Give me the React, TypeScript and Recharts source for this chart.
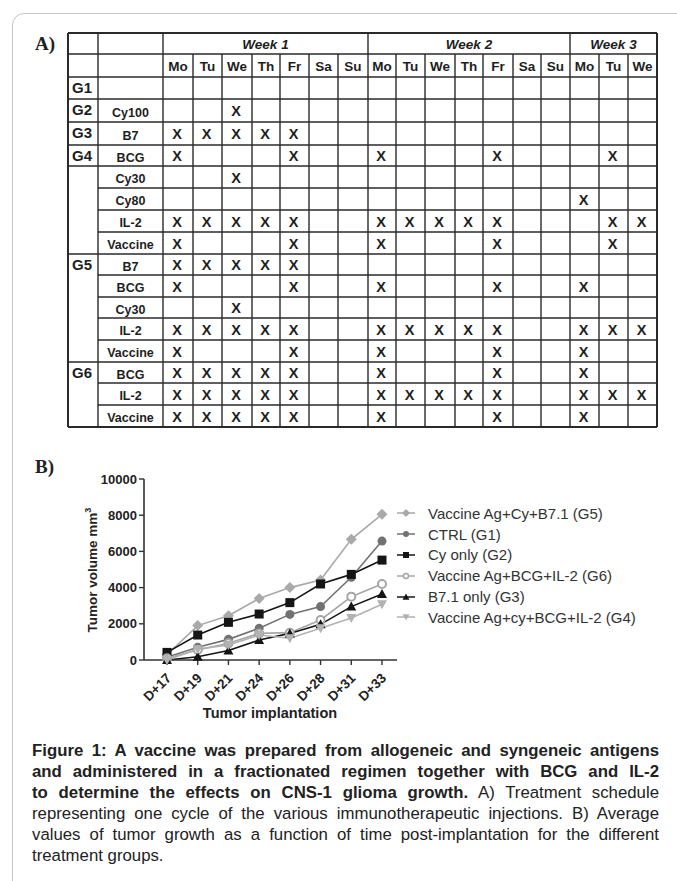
import React from 'react';
import { LineChart, Line, XAxis, YAxis, Legend } from 'recharts';

// ---- part B data ----
const days = ['D+17', 'D+19', 'D+21', 'D+24', 'D+26', 'D+28', 'D+31', 'D+33'];
const g5Values = [300, 1900, 2450, 3400, 4000, 4420, 6670, 8050];
const g1Values = [150, 700, 1140, 1750, 2520, 2950, 4570, 6570];
const g2Values = [420, 1380, 2080, 2540, 3170, 4200, 4730, 5520];
const g6Values = [100, 550, 920, 1470, 1510, 2210, 3500, 4200];
const g3Values = [0, 180, 520, 1100, 1470, 1970, 2950, 3650];
const g4Values = [0, 600, 830, 1380, 1200, 1750, 2320, 3080];
const yTicks = [0, 2000, 4000, 6000, 8000, 10000];

// ---- part A data (treatment schedule) ----
const weeks = ['Week 1', 'Week 2', 'Week 3'];
const weekDays = [
  ['Mo', 'Tu', 'We', 'Th', 'Fr', 'Sa', 'Su'],
  ['Mo', 'Tu', 'We', 'Th', 'Fr', 'Sa', 'Su'],
  ['Mo', 'Tu', 'We'],
];
const treatments = ['', 'Cy100', 'B7', 'BCG', 'Cy30', 'Cy80', 'IL-2', 'Vaccine', 'B7', 'BCG', 'Cy30', 'IL-2', 'Vaccine', 'BCG', 'IL-2', 'Vaccine'];
const schedule = [
  '.......|.......|...',
  '..X....|.......|...',
  'XXXXX..|.......|...',
  'X...X..|X...X..|.X.',
  '..X....|.......|...',
  '.......|.......|X..',
  'XXXXX..|XXXXX..|.XX',
  'X...X..|X...X..|.X.',
  'XXXXX..|.......|...',
  'X...X..|X...X..|X..',
  '..X....|.......|...',
  'XXXXX..|XXXXX..|XXX',
  'X...X..|X...X..|X..',
  'XXXXX..|X...X..|X..',
  'XXXXX..|XXXXX..|XXX',
  'XXXXX..|X...X..|X..',
];
const groupLabels = ['G1', 'G2', 'G3', 'G4', '', 'G5', 'G6'];
const groupSpans = [1, 1, 1, 1, 4, 5, 3];

const FONT = '"Liberation Sans", Arial, Helvetica, sans-serif';

const chartData = days.map((d, i) => ({
  day: d,
  g5: g5Values[i],
  g1: g1Values[i],
  g2: g2Values[i],
  g6: g6Values[i],
  g3: g3Values[i],
  g4: g4Values[i],
}));

const series = [
  { key: 'g5', name: 'Vaccine Ag+Cy+B7.1 (G5)', color: '#a9a9a9', shape: 'diamond' },
  { key: 'g1', name: 'CTRL (G1)', color: '#727272', shape: 'circle' },
  { key: 'g2', name: 'Cy only (G2)', color: '#151515', shape: 'square' },
  { key: 'g6', name: 'Vaccine Ag+BCG+IL-2 (G6)', color: '#a6a6a6', shape: 'ring' },
  { key: 'g3', name: 'B7.1 only (G3)', color: '#151515', shape: 'triangle' },
  { key: 'g4', name: 'Vaccine Ag+cy+BCG+IL-2 (G4)', color: '#b2b2b2', shape: 'down' },
];

function marker(shape: string, x: number, y: number, color: string, s = 1) {
  const r = 5 * s;
  switch (shape) {
    case 'diamond':
      return <polygon points={`${x},${y - r - 0.5} ${x + r + 0.5},${y} ${x},${y + r + 0.5} ${x - r - 0.5},${y}`} fill={color} />;
    case 'circle':
      return <circle cx={x} cy={y} r={r - 0.5} fill={color} />;
    case 'square':
      return <rect x={x - r + 0.5} y={y - r + 0.5} width={2 * r - 1} height={2 * r - 1} fill={color} />;
    case 'ring':
      return <circle cx={x} cy={y} r={r - 1} fill="#fff" stroke={color} strokeWidth={2 * s} />;
    case 'triangle':
      return <polygon points={`${x},${y - r} ${x + r},${y + r * 0.8} ${x - r},${y + r * 0.8}`} fill={color} />;
    default:
      return <polygon points={`${x},${y + r} ${x + r},${y - r * 0.8} ${x - r},${y - r * 0.8}`} fill={color} />;
  }
}

const XTick = (props: any) => {
  const { x, y, payload } = props;
  const tx = x + 5;
  const ty = y + 12;
  return (
    <text x={tx} y={ty} transform={`rotate(-45 ${tx} ${ty})`} textAnchor="end" fontFamily={FONT} fontWeight="bold" fontSize={13.5} fill="#222">
      {payload.value}
    </text>
  );
};

const renderLegend = () => (
  <div style={{ fontFamily: FONT, fontSize: 15, color: '#333' }}>
    {series.map((s) => (
      <div key={s.key} style={{ display: 'flex', alignItems: 'center', height: 20.8 }}>
        <svg width={22} height={14} style={{ flex: 'none' }}>
          <line x1={2} y1={7} x2={20} y2={7} stroke={s.color} strokeWidth={1.5} />
          {marker(s.shape, 11, 7, s.color, 0.7)}
        </svg>
        <span style={{ marginLeft: 11, whiteSpace: 'nowrap' }}>{s.name}</span>
      </div>
    ))}
  </div>
);

// table layout
const colEdges = [68, 98, 163, 193, 222, 252, 280, 309, 338, 368, 396, 425, 455, 483, 513, 541, 570, 599, 628, 657];
const rowEdges = [33, 54, 77, 99, 122, 145, 166, 188, 210, 232, 254, 275, 297, 318, 340, 362, 383, 405, 427];

function ScheduleTable() {
  const lines: React.ReactNode[] = [];
  const texts: React.ReactNode[] = [];
  const L = colEdges[0];
  const R = colEdges[colEdges.length - 1];
  const T = rowEdges[0];
  const B = rowEdges[rowEdges.length - 1];

  // group start rows (data-row index)
  const groupStarts: number[] = [];
  let acc = 0;
  groupSpans.forEach((s) => {
    groupStarts.push(acc);
    acc += s;
  });
  const fullRows = new Set<number>([0, 1, 2, rowEdges.length - 1, ...groupStarts.map((g) => g + 2)]);

  rowEdges.forEach((y, i) => {
    const full = fullRows.has(i);
    const thick = i === 0 || i === rowEdges.length - 1;
    lines.push(<line key={`h${i}`} x1={full ? L : colEdges[1]} x2={R} y1={y} y2={y} stroke="#2a2a2a" strokeWidth={thick ? 2 : 1.4} />);
  });

  const weekEdgeIdx = new Set<number>([0, 1, 2, 9, 16, 19]);
  colEdges.forEach((x, i) => {
    const full = weekEdgeIdx.has(i);
    const thick = i === 0 || i === colEdges.length - 1;
    lines.push(<line key={`v${i}`} x1={x} x2={x} y1={full ? T : rowEdges[1]} y2={B} stroke="#2a2a2a" strokeWidth={thick ? 2 : 1.4} />);
  });

  // header
  let dayCol = 2;
  weeks.forEach((w, wi) => {
    const n = weekDays[wi].length;
    const x0 = colEdges[dayCol];
    const x1 = colEdges[dayCol + n];
    texts.push(
      <text key={`w${wi}`} x={(x0 + x1) / 2} y={rowEdges[0] + 16} textAnchor="middle" fontWeight="bold" fontStyle="italic" fontSize={13.5}>
        {w}
      </text>
    );
    weekDays[wi].forEach((d, di) => {
      const c = dayCol + di;
      texts.push(
        <text key={`d${wi}-${di}`} x={(colEdges[c] + colEdges[c + 1]) / 2} y={rowEdges[1] + 17} textAnchor="middle" fontWeight="bold" fontSize={13.5}>
          {d}
        </text>
      );
    });
    dayCol += n;
  });

  // group labels
  groupLabels.forEach((g, gi) => {
    if (!g) return;
    const top = rowEdges[groupStarts[gi] + 2];
    texts.push(
      <text key={`g${gi}`} x={L + 4} y={top + 16} fontWeight="bold" fontSize={15}>
        {g}
      </text>
    );
  });

  // treatments and X marks
  treatments.forEach((t, ri) => {
    const top = rowEdges[ri + 2];
    const bot = rowEdges[ri + 3];
    const yb = (top + bot) / 2 + 5;
    if (t) {
      texts.push(
        <text key={`t${ri}`} x={(colEdges[1] + colEdges[2]) / 2} y={yb + 1} textAnchor="middle" fontWeight="bold" fontSize={12.5}>
          {t}
        </text>
      );
    }
    const marks = schedule[ri].replace(/\|/g, '');
    marks.split('').forEach((m, ci) => {
      if (m !== 'X') return;
      const c = ci + 2;
      texts.push(
        <text key={`x${ri}-${ci}`} x={(colEdges[c] + colEdges[c + 1]) / 2 - 1} y={yb + 0.5} textAnchor="middle" fontWeight="bold" fontSize={14.5}>
          X
        </text>
      );
    });
  });

  return (
    <svg width={677} height={440} style={{ position: 'absolute', left: 0, top: 0 }} fontFamily={FONT} fill="#1e1e1e">
      {lines}
      {texts}
    </svg>
  );
}

export default function App() {
  return (
    <div style={{ position: 'fixed', left: 0, top: 0, width: 677, height: 881, overflow: 'hidden', background: '#fff' }}>
      <div
        style={{
          position: 'absolute',
          left: 12,
          top: 13,
          width: 720,
          height: 920,
          border: '1.5px solid #c6c6c6',
          borderRadius: 12,
        }}
      />
      <div style={{ position: 'absolute', left: 35, top: 33, fontFamily: '"Liberation Serif", "Times New Roman", serif', fontWeight: 'bold', fontSize: 19, color: '#222' }}>
        A)
      </div>
      <div style={{ position: 'absolute', left: 35, top: 456, fontFamily: '"Liberation Serif", "Times New Roman", serif', fontWeight: 'bold', fontSize: 19, color: '#222' }}>
        B)
      </div>

      <ScheduleTable />

      <div style={{ position: 'absolute', left: 0, top: 460 }}>
        <LineChart width={677} height={270} data={chartData} margin={{ top: 19, right: 280, left: 0, bottom: 0 }}>
          <XAxis
            dataKey="day"
            interval={0}
            height={70}
            padding={{ left: 23, right: 15 }}
            axisLine={{ stroke: '#333', strokeWidth: 1.6 }}
            tickLine={{ stroke: '#333', strokeWidth: 1.4 }}
            tickSize={5}
            tick={<XTick />}
            label={{
              content: () => (
                <text x={270} y={258} textAnchor="middle" fontFamily={FONT} fontWeight="bold" fontSize={14.5} fill="#222">
                  Tumor implantation
                </text>
              ),
            }}
          />
          <YAxis
            width={144}
            domain={[0, 10000]}
            ticks={yTicks}
            interval={0}
            axisLine={{ stroke: '#333', strokeWidth: 1.6 }}
            tickLine={{ stroke: '#333', strokeWidth: 1.4 }}
            tickSize={5}
            tickMargin={2}
            tick={{ fontFamily: FONT, fontWeight: 'bold', fontSize: 13, fill: '#222' }}
            label={{
              content: () => (
                <text x={97} y={110} transform="rotate(-90 97 110)" textAnchor="middle" fontFamily={FONT} fontWeight="bold" fontSize={13.5} fill="#222">
                  Tumor volume mm
                  <tspan fontSize={9} dy={-6}>3</tspan>
                </text>
              ),
            }}
          />
          <Legend
            layout="vertical"
            align="center"
            verticalAlign="middle"
            content={renderLegend}
            wrapperStyle={{ left: 395, top: 43, width: 280, height: 130 }}
          />
          {series.map((s) => (
            <Line
              key={s.key}
              dataKey={s.key}
              name={s.name}
              stroke={s.color}
              strokeWidth={1.6}
              isAnimationActive={false}
              dot={(p: any) => <g key={`${s.key}-${p.index}`}>{marker(s.shape, p.cx, p.cy, s.color)}</g>}
              activeDot={false}
            />
          ))}
        </LineChart>
      </div>

      <div style={{ position: 'absolute', left: 32, top: 740, width: 627, fontFamily: FONT, fontSize: 16.8, lineHeight: '21px', color: '#222' }}>
        {[
          [<b key="b">Figure 1: A vaccine was prepared from allogeneic and syngeneic antigens</b>],
          [<b key="b">and administered in a fractionated regimen together with BCG and IL-2</b>],
          [<b key="b">to determine the effects on CNS-1 glioma growth.</b>, ' A) Treatment schedule'],
          ['representing one cycle of the various immunotherapeutic injections. B) Average'],
          ['values of tumor growth as a function of time post-implantation for the different'],
        ].map((parts, i) => (
          <div key={i} style={{ textAlign: 'justify', textAlignLast: 'justify', whiteSpace: 'nowrap' }}>
            {parts}
          </div>
        ))}
        <div>treatment groups.</div>
      </div>
    </div>
  );
}
